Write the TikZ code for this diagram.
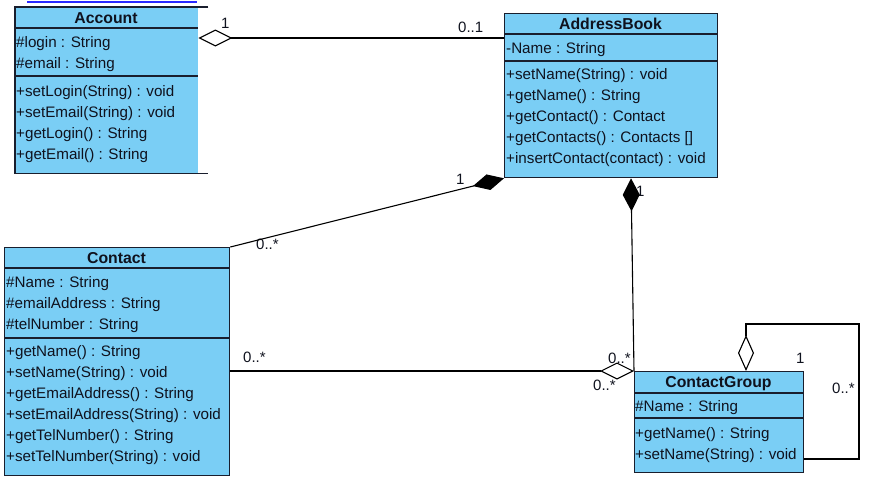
\documentclass[tikz,border=0pt]{standalone}
\usepackage{fontspec}
\setmainfont{Liberation Sans}
\usetikzlibrary{arrows.meta}
\definecolor{clsfill}{RGB}{122,206,245}
\definecolor{clsline}{RGB}{25,30,45}
\definecolor{txt}{RGB}{15,18,30}
\definecolor{linkblue}{RGB}{40,40,255}
\tikzset{
  odia/.tip={Diamond[fill=white, length=34pt, width=17pt]},
  odiaself/.tip={Diamond[fill=white, length=36pt, width=16pt]},
  fdia/.tip={Diamond[length=32pt, width=16pt]},
  fdiab/.tip={Diamond[length=33pt, width=17pt]}
}
\begin{document}
\begin{tikzpicture}[x=1pt,y=-1pt,
  cls/.style={fill=clsfill, draw=clsline, line width=1.3pt, inner sep=0, anchor=north west},
  sepline/.style={draw=clsline, line width=1.2pt},
  row/.style={anchor=base west, inner sep=0, text=txt, font=\fontsize{15.2}{18}\selectfont},
  hdr/.style={anchor=base, inner sep=0, text=txt, font=\fontsize{15.8}{18}\selectfont\bfseries},
  lbl/.style={anchor=base west, inner sep=0, text=txt, font=\fontsize{15}{18}\selectfont},
  conn/.style={draw=black, line width=1.1pt}
]
\useasboundingbox (0,0) rectangle (870,485);

% stray link underline at top
\coordinate (u1) at (27,2);
\coordinate (u2) at (197,2);
\draw[linkblue, line width=1.4pt] (u1) -- (u2);

% ---------- Account (no right border) ----------
\node[cls, draw=none, minimum width=182pt, minimum height=165pt] (acc) at (15,7) {};
\draw[sepline] ([xshift=10pt]acc.north east) -- (acc.north west) -- (acc.south west) -- ([xshift=10pt]acc.south east);
\draw[sepline] (acc.west |- 0,28) -- (acc.east |- 0,28);
\draw[sepline] (acc.west |- 0,76) -- (acc.east |- 0,76);
\node[hdr] (acch) at (106,23) {Account};
\node[row] (acc1) at (16,47.5) {\#login : String};
\node[row] (acc2) at (16,68.5) {\#email : String};
\node[row] (acc3) at (16,96.5) {+setLogin(String) : void};
\node[row] (acc4) at (16,117.5) {+setEmail(String) : void};
\node[row] (acc5) at (16,138.5) {+getLogin() : String};
\node[row] (acc6) at (16,159.5) {+getEmail() : String};

% ---------- AddressBook ----------
\node[cls, minimum width=213pt, minimum height=164pt] (ab) at (504,13) {};
\draw[sepline] (ab.west |- 0,34) -- (ab.east |- 0,34);
\draw[sepline] (ab.west |- 0,61) -- (ab.east |- 0,61);
\node[hdr] (abh) at (610.5,29.5) {AddressBook};
\node[row] (ab1) at (506,53.3) {-Name : String};
\node[row] (ab2) at (506,79.5) {+setName(String) : void};
\node[row] (ab3) at (506,100.5) {+getName() : String};
\node[row] (ab4) at (506,121.5) {+getContact() : Contact};
\node[row] (ab5) at (506,142.5) {+getContacts() : Contacts []};
\node[row] (ab6) at (506,163.5) {+insertContact(contact) : void};

% ---------- Contact ----------
\node[cls, minimum width=225pt, minimum height=228pt] (ct) at (4,247) {};
\draw[sepline] (ct.west |- 0,268) -- (ct.east |- 0,268);
\draw[sepline] (ct.west |- 0,338) -- (ct.east |- 0,338);
\node[hdr] (cth) at (116.5,263.3) {Contact};
\node[row] (ct1) at (6,287.7) {\#Name : String};
\node[row] (ct2) at (6,308.7) {\#emailAddress : String};
\node[row] (ct3) at (6,329.7) {\#telNumber : String};
\node[row] (ct4) at (6,356.7) {+getName() : String};
\node[row] (ct5) at (6,377.7) {+setName(String) : void};
\node[row] (ct6) at (6,398.7) {+getEmailAddress() : String};
\node[row] (ct7) at (6,419.7) {+setEmailAddress(String) : void};
\node[row] (ct8) at (6,440.7) {+getTelNumber() : String};
\node[row] (ct9) at (6,461.7) {+setTelNumber(String) : void};

% ---------- ContactGroup ----------
\node[cls, minimum width=169pt, minimum height=101pt] (cg) at (634,371) {};
\draw[sepline] (cg.west |- 0,393) -- (cg.east |- 0,393);
\draw[sepline] (cg.west |- 0,418) -- (cg.east |- 0,418);
\node[hdr] (cgh) at (718.5,387.3) {ContactGroup};
\node[row] (cg1) at (635,411.7) {\#Name : String};
\node[row] (cg2) at (635,438.3) {+getName() : String};
\node[row] (cg3) at (635,459.3) {+setName(String) : void};

% ---------- multiplicity labels ----------
\node[lbl] (m1) at (221,28) {1};
\node[lbl] (m2) at (458,32) {0..1};
\node[lbl] (m3) at (456,184) {1};
\node[lbl] (m4) at (256,249) {0..*};
\node[lbl] (m5) at (636,196) {1};
\node[lbl] (m6) at (243,362) {0..*};
\node[lbl] (m7) at (608,363) {0..*};
\node[lbl] (m8) at (593,390) {0..*};
\node[lbl] (m9) at (796,363) {1};
\node[lbl] (m10) at (832,393) {0..*};

% ---------- connectors ----------
\coordinate (accR) at (acc.east |- 0,38);
\draw[conn, odia-] (accR) -- (ab.west |- accR);

\draw[conn, -fdia] (ct.north east) -- (ab.south west);

\coordinate (abB) at (ab.south -| 631,0);
\draw[conn, fdiab-] (abB) -- (cg.north west);

\draw[conn, -odia] (ct.east |- cg.north west) -- (cg.north west);

\coordinate (s0) at (cg.east |- 0,459);
\coordinate (s1) at (859,459);
\coordinate (s2) at (859,324);
\coordinate (s3) at (746,324);
\coordinate (s4) at (cg.north -| 746,0);
\draw[conn, -odiaself] (s0) -- (s1) -- (s2) -- (s3) -- (s4);
\end{tikzpicture}
\end{document}
